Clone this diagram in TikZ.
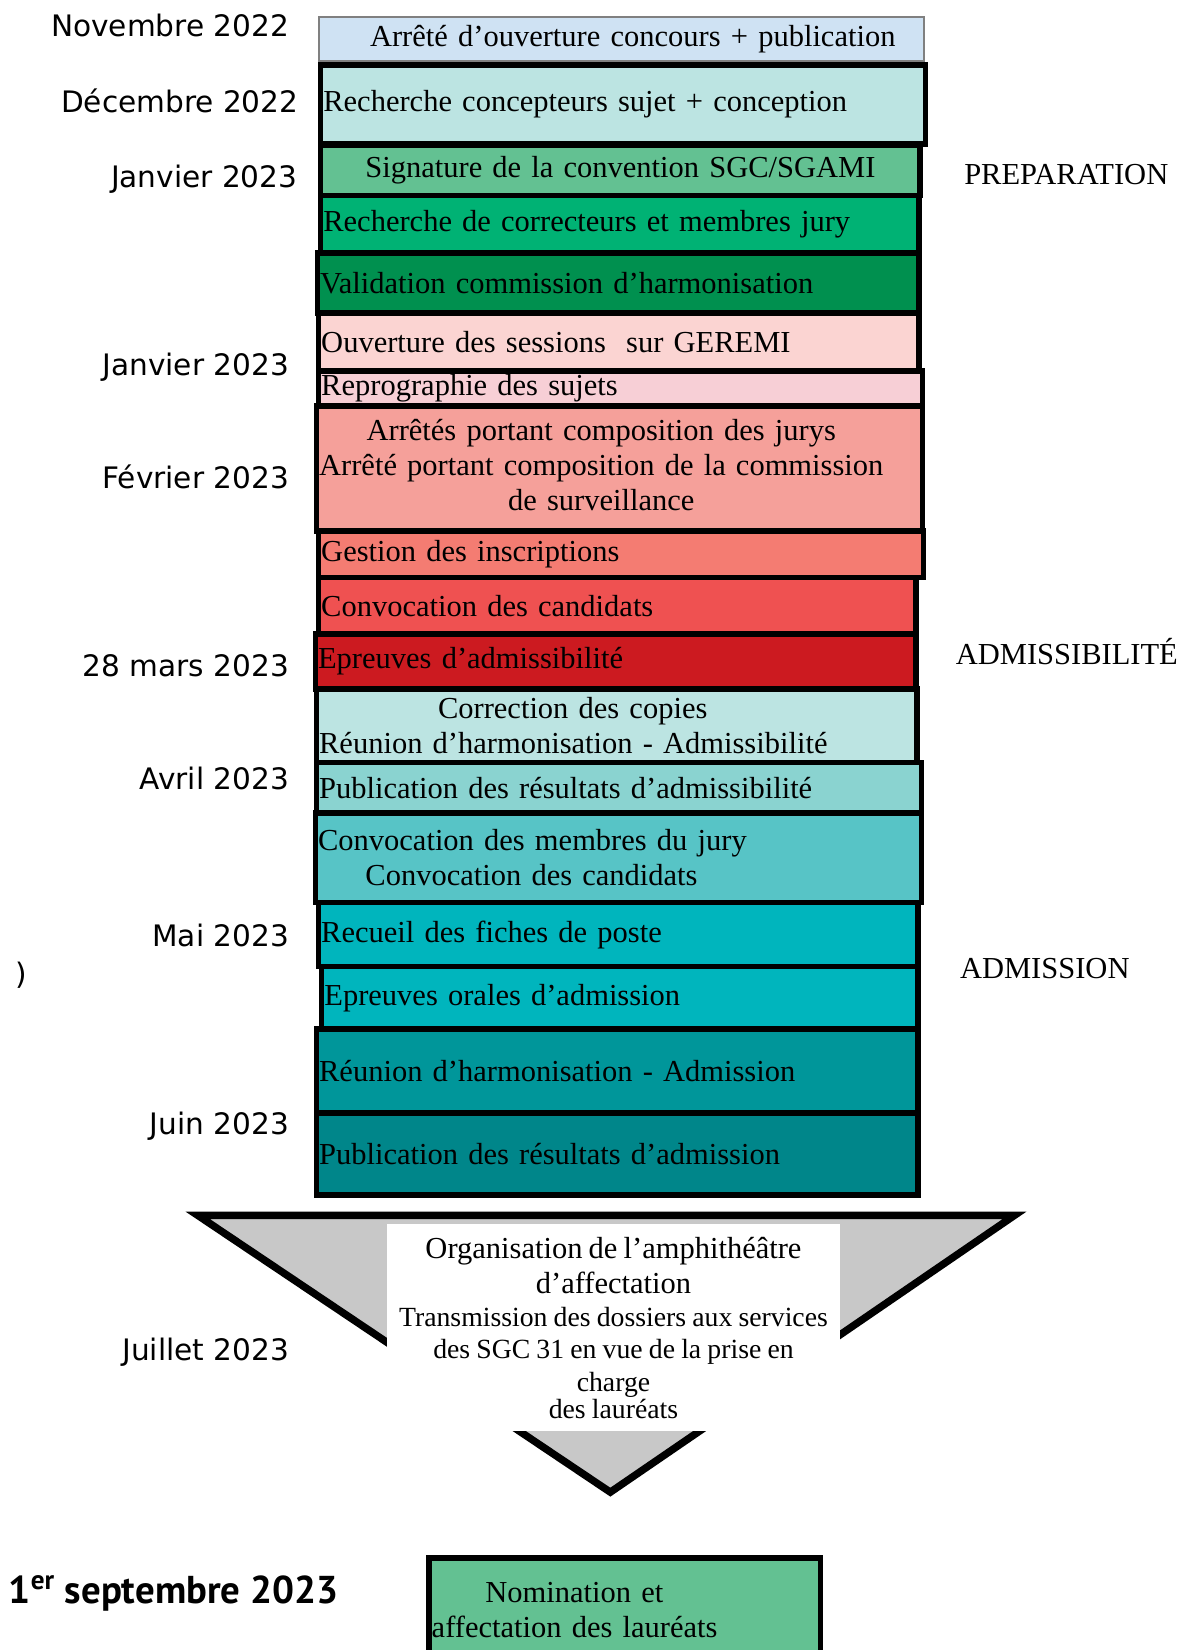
\documentclass[tikz,border=0pt]{standalone}
\usepackage{fontspec}
\setmainfont{Liberation Serif}
\newfontfamily\datefont{DejaVu Sans}
\newfontfamily\septfont{PT Sans}
\newcommand\etapefont{\fontsize{16.5}{19}\selectfont}

\definecolor{bleuclair}{HTML}{CFE2F3}
\definecolor{turquoiseclair}{HTML}{BCE4E2}
\definecolor{vertmoyen}{HTML}{63C192}
\definecolor{vertvif}{HTML}{00B274}
\definecolor{vertfonce}{HTML}{00904F}
\definecolor{rosepale}{HTML}{FBD4D2}
\definecolor{roseclair}{HTML}{F7CFD6}
\definecolor{saumon}{HTML}{F5A09A}
\definecolor{corail}{HTML}{F47C72}
\definecolor{rougeclair}{HTML}{EF5151}
\definecolor{rougevif}{HTML}{CC1A20}
\definecolor{turquoise}{HTML}{8AD3D0}
\definecolor{turquoisemoyen}{HTML}{57C4C6}
\definecolor{cyanvif}{HTML}{00B5BD}
\definecolor{petrole}{HTML}{00969A}
\definecolor{petrolefonce}{HTML}{00868A}
\definecolor{gris}{HTML}{C8C8C8}

\tikzset{
	etape/.style n args={3}{draw=black, line width=3pt, fill=#3, anchor=north west,
		minimum width=#1cm, minimum height=#2cm, text width=#1cm-3pt,
		inner xsep=1.5pt, inner ysep=0pt, align=left, font=\etapefont},
	mois/.style={anchor=base east, inner sep=0pt, font=\datefont\fontsize{16}{19}\selectfont},
	phase/.style={anchor=base west, inner sep=0pt, font=\etapefont},
	entonnoir/.style={draw=black, line width=4pt, fill=gris, line join=miter}
}

\begin{document}
\begin{tikzpicture}[x=0.02cm, y=-0.02cm]
	\useasboundingbox (0,0) rectangle (1124,1568);
	% Dates
	\node[mois] (nov22) at (275,35) {Novembre 2022};
	\node[mois] (dec22) at (284,107) {Décembre 2022};
	\node[mois] (jan23a) at (283,178) {Janvier 2023};
	\node[mois] (jan23b) at (275,357) {Janvier 2023};
	\node[mois] (fev23) at (275,464) {Février 2023};
	\node[mois] (mar23) at (275,643) {28 mars 2023};
	\node[mois] (avr23) at (275,750) {Avril 2023};
	\node[mois] (mai23) at (275,899) {Mai 2023};
	\node[mois, anchor=base west] (paren) at (14,936) {)};
	\node[mois] (juin23) at (275,1078) {Juin 2023};
	\node[mois] (juil23) at (275,1293) {Juillet 2023};
	\node[anchor=base west, inner sep=0pt, font=\septfont\bfseries\fontsize{21}{24}\selectfont] (sept23) at (8,1524) {1\textsuperscript{er} septembre 2023};
	% Phases
	\node[phase] (preparation) at (916,175) {PREPARATION};
	\node[phase] (admissibilite) at (908,631) {ADMISSIBILITÉ};
	\node[phase] (admission) at (912,930) {ADMISSION};
	% Preparation
	\node[etape={11.50}{0.84}{bleuclair}, draw=gray, line width=1pt, align=center] (arrete) at (302,15) {\hspace*{0.44cm}Arrêté d’ouverture concours + publication};
	\node[etape={11.50}{1.50}{turquoiseclair}] (concepteurs) at (302,59) {Recherche concepteurs sujet + conception};
	\node[etape={11.40}{0.96}{vertmoyen}, align=center] (signature) at (302,135) {Signature de la convention SGC/SGAMI\hspace*{0.2cm}};
	\node[etape={11.38}{1.10}{vertvif}] (correcteurs) at (302,183) {Recherche de correcteurs et membres jury};
	\node[etape={11.44}{1.14}{vertfonce}] (validation) at (299,238) {Validation commission d’harmonisation};
	\node[etape={11.42}{1.10}{rosepale}] (geremi) at (300,295) {Ouverture des sessions~ sur GEREMI};
	\node[etape={11.48}{0.66}{roseclair}] (reprographie) at (300,350) {Reprographie des sujets};
	\node[etape={11.52}{2.38}{saumon}] (arretes) at (298,383) {\begin{tabular}{@{}c@{}}Arrêtés portant composition des jurys\\Arrêté portant composition de la commission\\de surveillance\end{tabular}};
	\node[etape={11.50}{0.88}{corail}] (inscriptions) at (300,502) {Gestion des inscriptions};
	% Admissibilite
	\node[etape={11.36}{1.08}{rougeclair}] (convocation) at (300,546) {Convocation des candidats};
	\node[etape={11.42}{1.04}{rougevif}] (epreuves) at (297,600) {Epreuves d’admissibilité};
	\node[etape={11.42}{1.40}{turquoiseclair}] (correction) at (298,652) {\hspace*{2.26cm}Correction des copies\\Réunion d’harmonisation - Admissibilité};
	\node[etape={11.50}{0.96}{turquoise}] (pubadmissibilite) at (298,722) {Publication des résultats d’admissibilité};
	% Admission
	\node[etape={11.52}{1.70}{turquoisemoyen}] (convocjury) at (297,770) {Convocation des membres du jury\\\hspace*{0.9cm}Convocation des candidats};
	\node[etape={11.40}{1.22}{cyanvif}] (fiches) at (300,855) {Recueil des fiches de poste};
	\node[etape={11.34}{1.18}{cyanvif}] (oraux) at (303,916) {Epreuves orales d’admission};
	\node[etape={11.44}{1.60}{petrole}] (harmonisation) at (298,975) {Réunion d’harmonisation - Admission};
	\node[etape={11.44}{1.56}{petrolefonce}] (pubadmission) at (298,1055) {Publication des résultats d’admission};
	% Entonnoir
	\draw[entonnoir] (188,1155) -- (964,1155) -- (580,1418) -- cycle;
	\node[fill=white, text width=8.6cm, align=center, inner sep=0pt, minimum height=3.94cm, anchor=north] (amphi) at (583,1163) {\etapefont Organisation de l’amphithéâtre\\d’affectation\par
		\fontsize{15}{17.6}\selectfont Transmission des dossiers aux services\\des SGC 31 en vue de la prise en\\charge\\des lauréats};
	% Nomination
	\node[etape={7.44}{1.98}{vertmoyen}] (nomination) at (405,1478) {\hspace*{1.02cm}Nomination et\\affectation des lauréats};
\end{tikzpicture}
\end{document}
